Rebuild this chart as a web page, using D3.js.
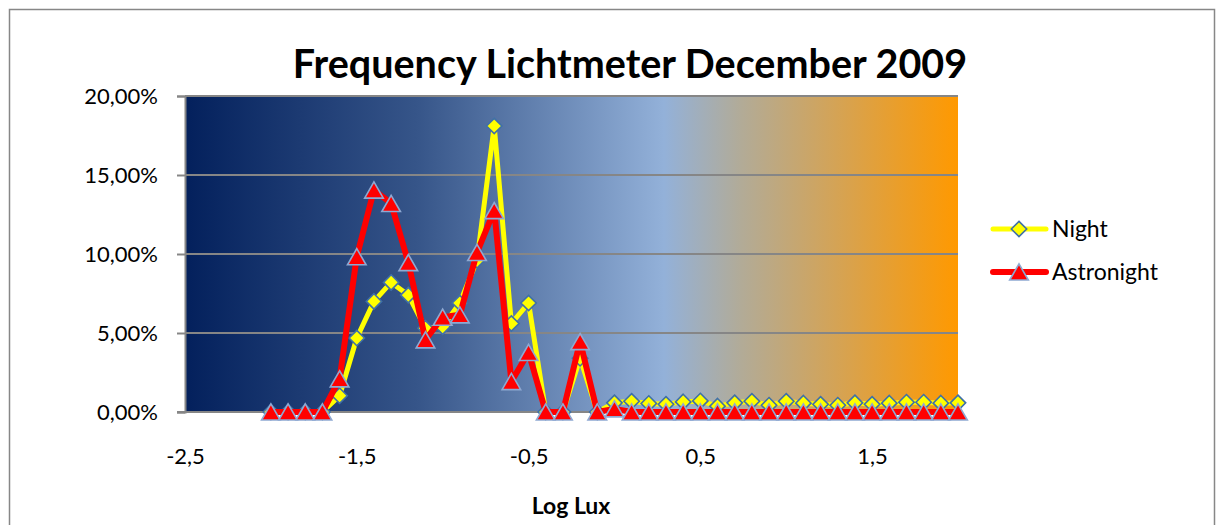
<!DOCTYPE html>
<html>
<head>
<meta charset="utf-8">
<script src="https://cdn.jsdelivr.net/npm/d3@7"></script>
<style>
  html, body { margin: 0; padding: 0; background: #fff; }
  svg { display: block; }
  text { font-family: Lato, "Open Sans", sans-serif; fill: #000; }
</style>
</head>
<body>
<svg id="chart" width="1218" height="525"></svg>
<script>
// ---- data ----
const categories = ["-2.5","-2.4","-2.3","-2.2","-2.1","-2.0","-1.9","-1.8","-1.7","-1.6",
  "-1.5","-1.4","-1.3","-1.2","-1.1","-1.0","-0.9","-0.8","-0.7","-0.6",
  "-0.5","-0.4","-0.3","-0.2","-0.1","0.0","0.1","0.2","0.3","0.4",
  "0.5","0.6","0.7","0.8","0.9","1.0","1.1","1.2","1.3","1.4",
  "1.5","1.6","1.7","1.8","1.9","2.0"];
const xTickLabels = ["-2.5","-1.5","-0.5","0.5","1.5"];
const yTicks = [0, 5, 10, 15, 20];
const seriesNames = ["Night", "Astronight"];
const nightValues = [null,null,null,null,null,
  0, 0, 0, 0, 1.03,
  4.68, 7.0, 8.2, 7.4, 5.3, 5.4, 6.9, 9.6, 18.1, 5.6,
  6.9, 0, 0, 3.4, 0, 0.58, 0.68, 0.54, 0.49, 0.64,
  0.70, 0.37, 0.58, 0.68, 0.43, 0.68, 0.56, 0.49, 0.43, 0.58,
  0.49, 0.56, 0.62, 0.62, 0.56, 0.58];
const astroValues = [null,null,null,null,null,
  0, 0, 0, 0, 2.1,
  9.83, 14.05, 13.2, 9.46, 4.57, 6.0, 6.15, 10.1, 12.75, 1.93,
  3.77, 0, 0, 4.46, 0, 0.2, 0, 0, 0, 0,
  0, 0, 0, 0, 0, 0, 0, 0, 0, 0,
  0, 0, 0, 0, 0, 0];

// ---- layout ----
const svg = d3.select("#chart");
const plot = { left: 185, right: 958, top: 96, bottom: 412 };

// outer chart border
svg.append("rect").attr("x", 9.5).attr("y", 9.5).attr("width", 1205).attr("height", 530)
  .attr("fill", "#fff").attr("stroke", "#878787").attr("stroke-width", 1.5);

const x = d3.scalePoint().domain(categories).range([plot.left, plot.right]).padding(0);
const y = d3.scaleLinear().domain([0, 20]).range([plot.bottom, plot.top]);

// gradient background
const defs = svg.append("defs");
const grad = defs.append("linearGradient").attr("id", "bg")
  .attr("gradientUnits", "userSpaceOnUse")
  .attr("x1", plot.left).attr("x2", plot.right).attr("y1", 0).attr("y2", 0);
[[0, "#03205c"], [0.30, "#365589"], [0.62, "#93b1d9"], [0.72, "#b2ab97"], [0.86, "#d9a24c"], [1, "#ff9900"]]
  .forEach(([o, c]) => grad.append("stop").attr("offset", o).attr("stop-color", c));

svg.append("rect").attr("x", plot.left).attr("y", plot.top)
  .attr("width", plot.right - plot.left).attr("height", plot.bottom - plot.top)
  .attr("fill", "url(#bg)");

// gridlines
svg.append("g").selectAll("line").data(yTicks.filter(d => d > 0)).join("line")
  .attr("x1", plot.left).attr("x2", plot.right)
  .attr("y1", d => y(d)).attr("y2", d => y(d))
  .attr("stroke", "#868686").attr("stroke-width", 2);

// y axis
const fmtY = d => d3.format(".2f")(d).replace(".", ",") + "%";
const yAxis = svg.append("g").attr("transform", `translate(${plot.left},0)`)
  .call(d3.axisLeft(y).tickValues(yTicks).tickSize(8).tickPadding(19).tickFormat(fmtY));
yAxis.select(".domain").attr("stroke", "#868686").attr("stroke-width", 2);
yAxis.selectAll(".tick line").attr("stroke", "#868686").attr("stroke-width", 2);
yAxis.selectAll("text").attr("font-size", 22).attr("font-family", "Lato").attr("fill", "#000").attr("dy", "0.35em");

// x axis
const xAxis = svg.append("g").attr("transform", `translate(0,${plot.bottom})`)
  .call(d3.axisBottom(x).tickValues(xTickLabels).tickSize(0).tickPadding(36)
    .tickFormat(d => d.replace(".", ",")));
xAxis.select(".domain").remove();
xAxis.selectAll("text").attr("font-size", 22).attr("font-family", "Lato").attr("fill", "#000");
svg.append("line").attr("x1", plot.left - 8).attr("x2", plot.right)
  .attr("y1", plot.bottom).attr("y2", plot.bottom)
  .attr("stroke", "#868686").attr("stroke-width", 2);

// title & axis title
svg.append("text").attr("x", 630).attr("y", 78).attr("text-anchor", "middle")
  .attr("font-size", 39.5).attr("font-weight", "bold").text("Frequency Lichtmeter December 2009");
svg.append("text").attr("x", 571).attr("y", 514).attr("text-anchor", "middle")
  .attr("font-size", 23).attr("font-weight", "bold").text("Log Lux");

// series
const diamond = d3.symbol().type(d3.symbolDiamond2).size(150);
const triangle = d3.symbol().type(d3.symbolTriangle).size(150);

function drawSeries(values, color, width, markerPath, markerFill, markerStroke, dyMarker) {
  const pts = categories.map((c, i) => ({ c, v: values[i] })).filter(p => p.v !== null);
  const line = d3.line().x(p => x(p.c)).y(p => y(p.v));
  svg.append("path").datum(pts).attr("d", line).attr("fill", "none")
    .attr("stroke", color).attr("stroke-width", width).attr("stroke-linejoin", "round");
  svg.append("g").selectAll("path").data(pts).join("path")
    .attr("d", markerPath)
    .attr("transform", p => `translate(${x(p.c)},${y(p.v) + dyMarker})`)
    .attr("fill", markerFill).attr("stroke", markerStroke).attr("stroke-width", 1.6);
}
drawSeries(nightValues, "#ffff00", 5, diamond, "#ffff00", "#3f70a8", 0);
drawSeries(astroValues, "#ff0000", 6, triangle, "#ff0000", "#8ea9d2", 2.7);

// legend
const legend = [
  { name: seriesNames[0], color: "#ffff00", w: 5, path: diamond, fill: "#ffff00", stroke: "#3f70a8", y: 229, dy: 0 },
  { name: seriesNames[1], color: "#ff0000", w: 6, path: triangle, fill: "#ff0000", stroke: "#8ea9d2", y: 272, dy: 2.7 }
];
const lg = svg.append("g").selectAll("g").data(legend).join("g");
lg.append("line").attr("x1", 993).attr("x2", 1046).attr("y1", d => d.y).attr("y2", d => d.y)
  .attr("stroke", d => d.color).attr("stroke-width", d => d.w).attr("stroke-linecap", "round");
lg.append("path").attr("d", d => d.path()).attr("transform", d => `translate(1019,${d.y + d.dy})`)
  .attr("fill", d => d.fill).attr("stroke", d => d.stroke).attr("stroke-width", 1.6);
lg.append("text").attr("x", 1052).attr("y", d => d.y).attr("dy", "0.35em")
  .attr("font-size", 23).text(d => d.name);
</script>
</body>
</html>
